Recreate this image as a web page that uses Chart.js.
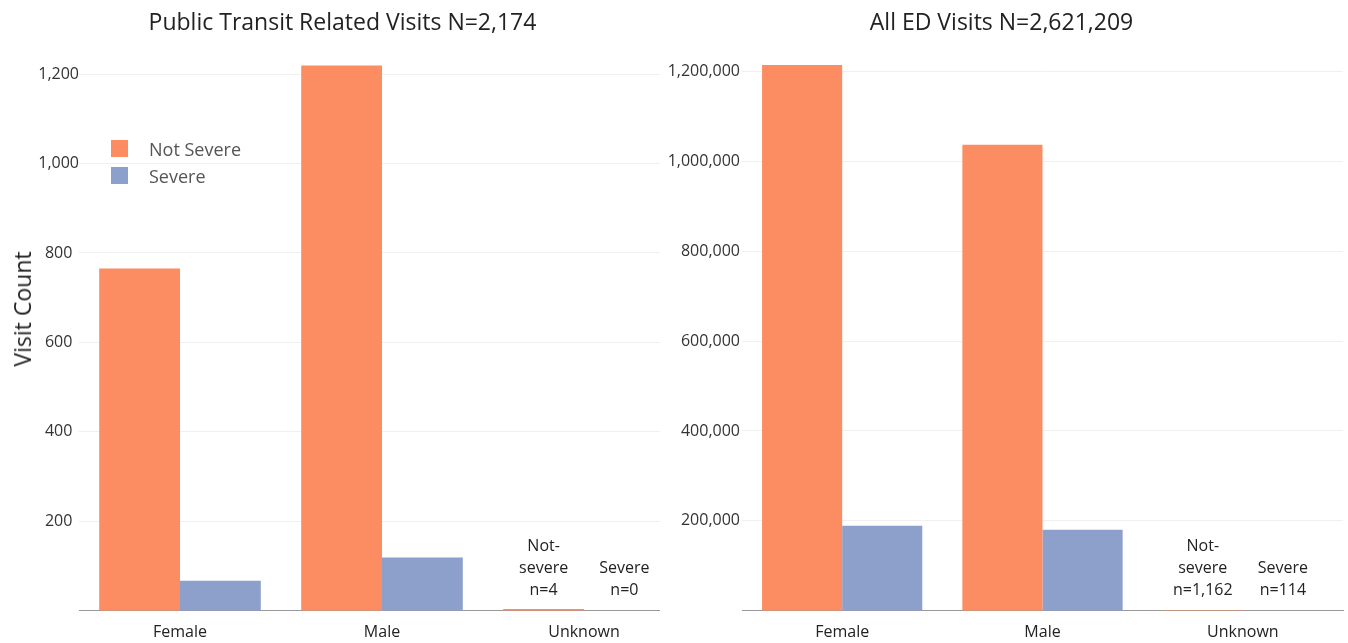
<!DOCTYPE html>
<html>
<head>
<meta charset="utf-8">
<title>ED visits by sex and severity</title>
<script src="https://cdn.jsdelivr.net/npm/chart.js@4.4.1/dist/chart.umd.min.js"></script>
<style>
  body { margin: 0; background: #fff; }
  #wrap { position: relative; width: 1348px; height: 643px; overflow: hidden; }
  .panel { position: absolute; top: 0; height: 643px; overflow: hidden; }
  #leftPanel { left: 0; width: 690px; }
  #rightPanel { left: 660px; width: 688px; background: #fff; }
  #yTitle {
    position: absolute; left: 22px; top: 309px;
    transform: translate(-50%, -50%) rotate(-90deg);
    font: 23px 'Open Sans', sans-serif; color: #222; white-space: nowrap;
  }
  #legend { position: absolute; left: 111px; top: 135px; font: 18px 'Open Sans', sans-serif; color: #555; }
  .item { display: flex; align-items: center; height: 27px; }
  .swatch { width: 17px; height: 17px; margin-right: 21px; }
</style>
</head>
<body>
<div id="wrap">
  <div class="panel" id="leftPanel">
    <canvas id="transitChart" width="690" height="646"></canvas>
    <div id="yTitle">Visit Count</div>
    <div id="legend"></div>
  </div>
  <div class="panel" id="rightPanel">
    <canvas id="allChart" width="688" height="646"></canvas>
  </div>
</div>
<script>
const categories = ['Female', 'Male', 'Unknown'];
const seriesNames = ['Not Severe', 'Severe'];
const seriesColors = ['#fc8d62', '#8da0cb'];

// public transit related visits
const transitNotSevere = [765, 1219, 4];
const transitSevere = [67, 119, 0];
const transitTicks = [200, 400, 600, 800, 1000, 1200];

// all ED visits
const allNotSevere = [1214033, 1036800, 1162];
const allSevere = [189000, 180100, 114];
const allTicks = [200000, 400000, 600000, 800000, 1000000, 1200000];

// words written above the Unknown bars, the count line is added from the data
const noteWords = [['Not-', 'severe'], ['Severe']];

Chart.defaults.font.family = "'Open Sans', sans-serif";
Chart.defaults.color = '#222';

const fmt = v => v.toLocaleString('en-US');
const sum = a => a.reduce((s, v) => s + v, 0);

const barNotes = {
  id: 'barNotes',
  afterDatasetsDraw(chart, args, opts) {
    if (!opts || !opts.words) return;
    const ctx = chart.ctx;
    const base = chart.scales.y.getPixelForValue(0);
    ctx.save();
    ctx.font = "16px 'Open Sans', sans-serif";
    ctx.fillStyle = '#222';
    ctx.textAlign = 'center';
    ctx.textBaseline = 'middle';
    opts.words.forEach((words, i) => {
      const bar = chart.getDatasetMeta(i).data[opts.index];
      const value = chart.data.datasets[i].data[opts.index];
      const lines = words.concat('n=' + fmt(value));
      lines.forEach((t, k) => {
        ctx.fillText(t, bar.x, base - 20 - (lines.length - 1 - k) * 22);
      });
    });
    ctx.restore();
  }
};
Chart.register(barNotes);

function makeChart(id, title, notSevere, severe, ticks, yMax, axisWidth, tickOpts, padRight) {
  return new Chart(document.getElementById(id), {
    type: 'bar',
    data: {
      labels: categories,
      datasets: [
        { label: seriesNames[0], data: notSevere, backgroundColor: seriesColors[0] },
        { label: seriesNames[1], data: severe, backgroundColor: seriesColors[1] }
      ]
    },
    options: {
      responsive: false,
      animation: false,
      layout: { padding: { top: 0, bottom: 0, left: 0, right: padRight } },
      datasets: { bar: { barPercentage: 1, categoryPercentage: 0.8 } },
      scales: {
        x: {
          grid: { display: false },
          border: { display: true, color: '#999', width: 1 },
          ticks: { font: { size: 16 }, color: '#222', padding: 4 }
        },
        y: {
          min: 0,
          max: yMax,
          grid: { color: '#f0f0f0', drawTicks: false },
          border: { display: false },
          ticks: Object.assign({ font: { size: 16 }, color: '#333', callback: v => fmt(v) }, tickOpts),
          afterBuildTicks: scale => { scale.ticks = ticks.map(v => ({ value: v })); },
          afterFit: scale => { scale.width = axisWidth; }
        }
      },
      plugins: {
        legend: { display: false },
        tooltip: { enabled: false },
        title: {
          display: true,
          text: title,
          color: '#222',
          font: { size: 23, weight: 'normal' },
          padding: { top: 10, bottom: 23 }
        },
        barNotes: { words: noteWords, index: 2 }
      }
    }
  });
}

makeChart('transitChart',
  'Public Transit Related Visits N=' + fmt(sum(transitNotSevere) + sum(transitSevere)),
  transitNotSevere, transitSevere, transitTicks, 1230, 79,
  { crossAlign: 'center', padding: 0 }, 5);

makeChart('allChart',
  'All ED Visits N=' + fmt(sum(allNotSevere) + sum(allSevere)),
  allNotSevere, allSevere, allTicks, 1224000, 82,
  { crossAlign: 'near', padding: 2 }, 5);

// legend for the left panel
const legend = document.getElementById('legend');
seriesNames.forEach((name, i) => {
  const row = document.createElement('div');
  row.className = 'item';
  const sw = document.createElement('span');
  sw.className = 'swatch';
  sw.style.background = seriesColors[i];
  row.appendChild(sw);
  row.appendChild(document.createTextNode(name));
  legend.appendChild(row);
});
</script>
</body>
</html>
